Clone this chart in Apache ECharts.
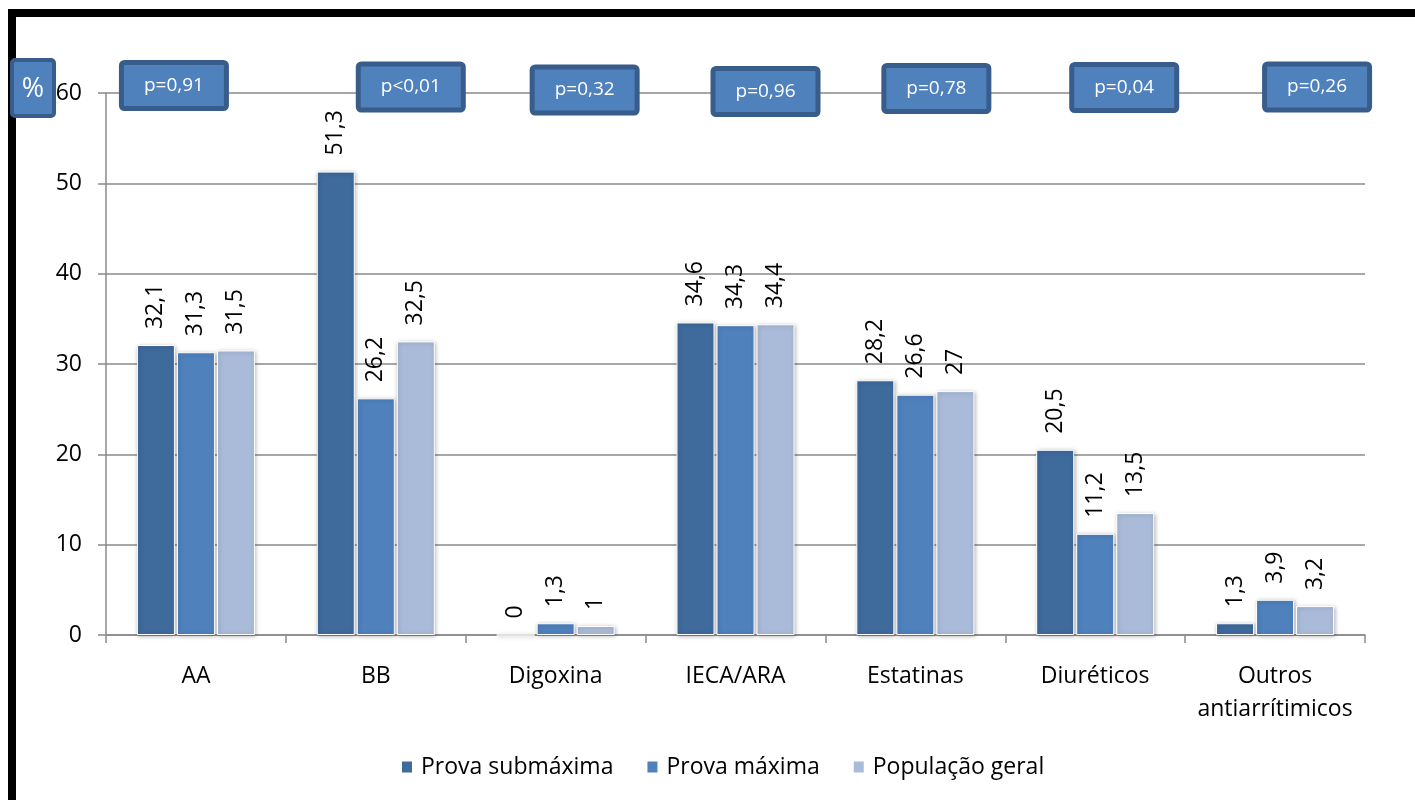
<!DOCTYPE html>
<html>
<head>
<meta charset="utf-8">
<title>Medicação por grupo</title>
<script src="https://cdn.jsdelivr.net/npm/echarts@6/dist/echarts.min.js"></script>
<style>
  html, body { margin: 0; padding: 0; background: #ffffff; }
  #chart { width: 1415px; height: 800px; }
</style>
</head>
<body>
<div id="chart"></div>
<script>
// Drug classes on the x axis
const categories = ['AA', 'BB', 'Digoxina', 'IECA/ARA', 'Estatinas', 'Diuréticos', 'Outros\nantiarrítimicos'];

// Percentage of patients in each group
const seriesNames = ['Prova submáxima', 'Prova máxima', 'População geral'];
const provaSubmaxima = [32.1, 51.3, 0, 34.6, 28.2, 20.5, 1.3];
const provaMaxima = [31.3, 26.2, 1.3, 34.3, 26.6, 11.2, 3.9];
const populacaoGeral = [31.5, 32.5, 1, 34.4, 27, 13.5, 3.2];

// p-values for each comparison
const pValues = ['p=0,91', 'p<0,01', 'p=0,32', 'p=0,96', 'p=0,78', 'p=0,04', 'p=0,26'];

// Y axis ticks
const yMin = 0, yMax = 60, yStep = 10;

// Layout: pixel nudge of each p-value box from its category centre at the top gridline
const pBoxNudge = [[-22, -7.5], [35, -6], [29, -3], [30, -1.5], [21, -4.5], [29, -5.5], [42, -6]];

const FONT = '"Open Sans", "Noto Sans", sans-serif';
const colors = ['#3E6A9C', '#4F81BD', '#AABBD9'];
const axisGray = '#8a8a8a';

const fmt = v => String(v).replace('.', ',');

function barSeries(name, data, color) {
  return {
    name: name,
    type: 'bar',
    data: data,
    barWidth: 38,
    barGap: '5.3%',
    itemStyle: {
      color: color,
      borderColor: '#ffffff',
      borderWidth: 1,
      shadowBlur: 4,
      shadowColor: 'rgba(0,0,0,0.28)',
      shadowOffsetX: 1,
      shadowOffsetY: 1
    },
    label: {
      show: true,
      position: 'top',
      rotate: 90,
      align: 'left',
      verticalAlign: 'middle',
      distance: 16,
      fontFamily: FONT,
      fontSize: 23,
      color: '#000000',
      formatter: p => fmt(p.value)
    }
  };
}

const chart = echarts.init(document.getElementById('chart'), null, { renderer: 'canvas' });

chart.setOption({
  animation: false,
  backgroundColor: '#ffffff',
  grid: { left: 106, right: 50, top: 93, bottom: 165, containLabel: false },
  legend: {
    data: seriesNames,
    left: 395,
    top: 749,
    itemWidth: 12,
    itemHeight: 13,
    itemGap: 32,
    icon: 'rect',
    textStyle: {
      fontFamily: FONT,
      fontSize: 23,
      lineHeight: 26,
      color: '#000000',
      padding: [0, 0, 0, 3]
    }
  },
  xAxis: {
    type: 'category',
    data: categories,
    axisLine: { show: true, lineStyle: { color: axisGray, width: 1.5 } },
    axisTick: { show: true, length: 8, alignWithLabel: false, lineStyle: { color: axisGray, width: 1.5 } },
    axisLabel: {
      interval: 0,
      margin: 25,
      fontFamily: FONT,
      fontSize: 23,
      lineHeight: 33,
      color: '#000000'
    }
  },
  yAxis: {
    type: 'value',
    min: yMin,
    max: yMax,
    interval: yStep,
    axisLine: { show: true, lineStyle: { color: axisGray, width: 1.5 } },
    axisTick: { show: true, length: 8, lineStyle: { color: axisGray, width: 1.5 } },
    splitLine: { show: true, lineStyle: { color: axisGray, width: 1.5 } },
    axisLabel: {
      margin: 24,
      fontFamily: FONT,
      fontSize: 23,
      color: '#000000'
    }
  },
  series: [
    barSeries(seriesNames[0], provaSubmaxima, colors[0]),
    barSeries(seriesNames[1], provaMaxima, colors[1]),
    barSeries(seriesNames[2], populacaoGeral, colors[2]),
    {
      // p-value boxes, anchored to each category at the top gridline
      type: 'custom',
      name: 'p',
      data: pValues.map((p, i) => [i, yMax]),
      clip: false,
      z: 10,
      silent: true,
      renderItem: function (params, api) {
        const pt = api.coord([api.value(0), api.value(1)]);
        const nudge = pBoxNudge[params.dataIndex];
        const cx = pt[0] + nudge[0];
        const cy = pt[1] + nudge[1];
        const w = 105, h = 46;
        return {
          type: 'group',
          children: [
            {
              type: 'rect',
              shape: { x: cx - w / 2, y: cy - h / 2, width: w, height: h, r: 3 },
              style: { fill: '#4F81BD', stroke: '#385D8A', lineWidth: 5 }
            },
            {
              type: 'text',
              style: {
                text: pValues[params.dataIndex],
                x: cx,
                y: cy,
                align: 'center',
                verticalAlign: 'middle',
                fill: '#ffffff',
                font: '19px ' + FONT
              }
            }
          ]
        };
      }
    }
  ],
  graphic: [
    // frame edges along the top and left
    { type: 'rect', shape: { x: 8, y: 9, width: 1407, height: 8 }, style: { fill: '#000000' }, z: 0 },
    { type: 'rect', shape: { x: 8, y: 9, width: 8, height: 791 }, style: { fill: '#000000' }, z: 0 },
    // unit box for the y axis
    {
      type: 'rect',
      shape: { x: 12, y: 60, width: 42, height: 56, r: 3 },
      style: { fill: '#4F81BD', stroke: '#385D8A', lineWidth: 4 },
      z: 20
    },
    {
      type: 'text',
      style: {
        text: '%',
        x: 33,
        y: 89,
        align: 'center',
        verticalAlign: 'middle',
        fill: '#ffffff',
        font: '27px ' + FONT
      },
      z: 21
    }
  ]
});
</script>
</body>
</html>
